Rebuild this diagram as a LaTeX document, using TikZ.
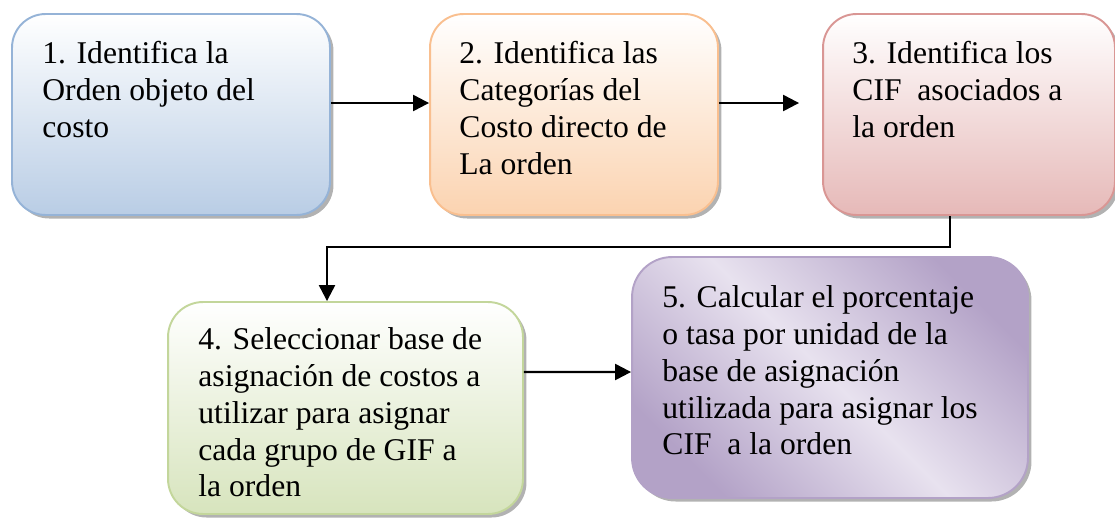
\documentclass[tikz,border=0pt]{standalone}
\usepackage{fontspec}
\setmainfont{Liberation Serif}
\usepackage{tikz}
\usetikzlibrary{arrows.meta,shadows}

\definecolor{azulborde}{HTML}{95B3D7}
\definecolor{azul}{HTML}{B9CDE5}
\definecolor{naranjaborde}{HTML}{F9BF8F}
\definecolor{naranja}{HTML}{FBD3B0}
\definecolor{rojoborde}{HTML}{D99694}
\definecolor{rojo}{HTML}{E6B9B8}
\definecolor{verdeborde}{HTML}{C3D69B}
\definecolor{verde}{HTML}{D7E4BD}
\definecolor{moradoborde}{HTML}{B3A2C7}
\definecolor{morado}{HTML}{B3A2C7}
\definecolor{moradoclaro}{HTML}{E8E2EF}

\begin{document}
\begin{tikzpicture}[x=0.02cm, y=-0.02cm,
	caja/.style={draw=#1borde, line width=1.1pt, top color=white, bottom color=#1,
		drop shadow={shadow xshift=2pt, shadow yshift=-2pt, fill=black, opacity=.3}},
	texto/.style={anchor=north west, inner sep=0pt, align=left,
		font=\fontsize{18}{21}\selectfont},
	flecha/.style={line width=1.3pt, -{Triangle[length=0.32cm, width=0.32cm]}}]
	\useasboundingbox (0,0) rectangle (1115,518);

	\node[caja=azul, rounded corners=0.67cm, minimum width=6.36cm, minimum height=4.02cm] (b1) at (171,114.5) {};
	\node[caja=naranja, rounded corners=0.67cm, minimum width=5.76cm, minimum height=4.02cm] (b2) at (574,114.5) {};
	\node[caja=rojo, rounded corners=0.67cm, minimum width=5.84cm, minimum height=4.02cm] (b3) at (969,114.5) {};
	\node[caja=verde, rounded corners=0.7cm, minimum width=7.1cm, minimum height=4.24cm] (b4) at (345.5,408) {};
	\node[draw=moradoborde, line width=1.1pt, rounded corners=0.8cm, minimum width=7.92cm, minimum height=4.82cm,
		left color=morado, right color=morado, middle color=moradoclaro, shading angle=135,
		drop shadow={shadow xshift=2pt, shadow yshift=-2pt, fill=black, opacity=.3}] (b5) at (830,377.5) {};

	\node[texto] (t1) at ([shift={(0.62cm,-0.56cm)}]b1.north west) {1. Identifica la\\Orden objeto del\\costo};
	\node[texto] (t2) at ([shift={(0.6cm,-0.56cm)}]b2.north west) {2. Identifica las\\Categorías del\\Costo directo de\\La orden};
	\node[texto] (t3) at ([shift={(0.6cm,-0.56cm)}]b3.north west) {3. Identifica los\\CIF\ \ asociados a\\la orden};
	\node[texto] (t4) at ([shift={(0.62cm,-0.52cm)}]b4.north west) {4. Seleccionar base de\\asignación de costos a\\utilizar para asignar\\cada grupo de GIF a\\la orden};
	\node[texto] (t5) at ([shift={(0.62cm,-0.58cm)}]b5.north west) {5. Calcular el porcentaje\\o tasa por unidad de la\\base de asignación\\utilizada para asignar los\\CIF\ \ a la orden};

	\draw[flecha] ([yshift=0.23cm]b1.east) -- ([yshift=0.23cm]b2.west);
	\draw[flecha] ([yshift=0.23cm]b2.east) -- ([xshift=-0.46cm, yshift=0.23cm]b3.west);
	\draw[flecha] ([xshift=-0.38cm]b3.south) -- ++(0,-0.62cm) -| ([xshift=-0.37cm]b4.north);
	\draw[flecha] ([yshift=0.72cm]b4.east) -- ([yshift=0.11cm]b5.west);
\end{tikzpicture}
\end{document}
